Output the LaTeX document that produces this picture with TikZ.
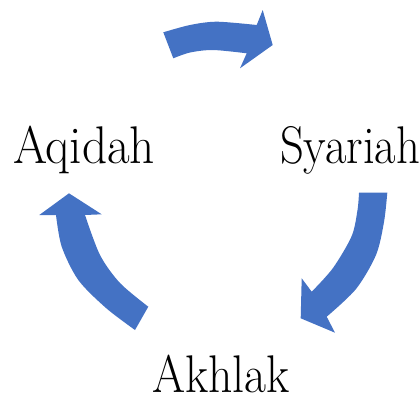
\documentclass[tikz,border=0pt]{standalone}
\usepackage{graphicx}
\definecolor{arrowblue}{HTML}{4472C4}
\tikzset{
  blockarrow/.style={fill=arrowblue, draw=none},
  label/.style={inner sep=0pt, outer sep=0pt, anchor=base west, font=\fontsize{53}{60}\selectfont}
}
\begin{document}
\begin{tikzpicture}[x=1pt,y=-1pt]
\useasboundingbox (0,0) rectangle (420,397);
% top arrow
\fill[blockarrow] plot[smooth] coordinates {(163.3,32.3) (190,25) (216.7,21.7) (256.7,25)}
  -- (262.7,10) -- (272.7,45) -- (240,68.3) -- (246.7,53.3)
  -- plot[smooth] coordinates {(246.7,53.3) (213,50) (190,52.5) (173.3,58.3)} -- cycle;
% right arrow
\fill[blockarrow] plot[smooth] coordinates {(387.3,192.7) (384,222) (376,255) (356,289) (326.7,316.7)}
  -- (335,332.7) -- (300.7,318.3) -- (301.7,278.3) -- (311.7,291.7)
  -- plot[smooth] coordinates {(311.7,291.7) (333,268) (351.7,236) (357.5,210) (359,192.7)} -- cycle;
% left arrow
\fill[blockarrow] plot[smooth] coordinates {(56,215) (61.7,246.7) (78.3,280) (106,308) (135,330)}
  -- (148.3,306.7)
  -- plot[smooth] coordinates {(148.3,306.7) (120,283) (100,255) (85,215)}
  -- (101.7,214.3) -- (69,193.3) -- (39.3,215) -- cycle;
\node[label] (aqidah) at (13,163) {\scalebox{0.93}[1]{Aqidah}};
\node[label] (syariah) at (280,163) {\scalebox{0.88}[1]{Syariah}};
\node[label] (akhlak) at (152,392) {\scalebox{0.9}[1]{Akhlak}};
\end{tikzpicture}
\end{document}
